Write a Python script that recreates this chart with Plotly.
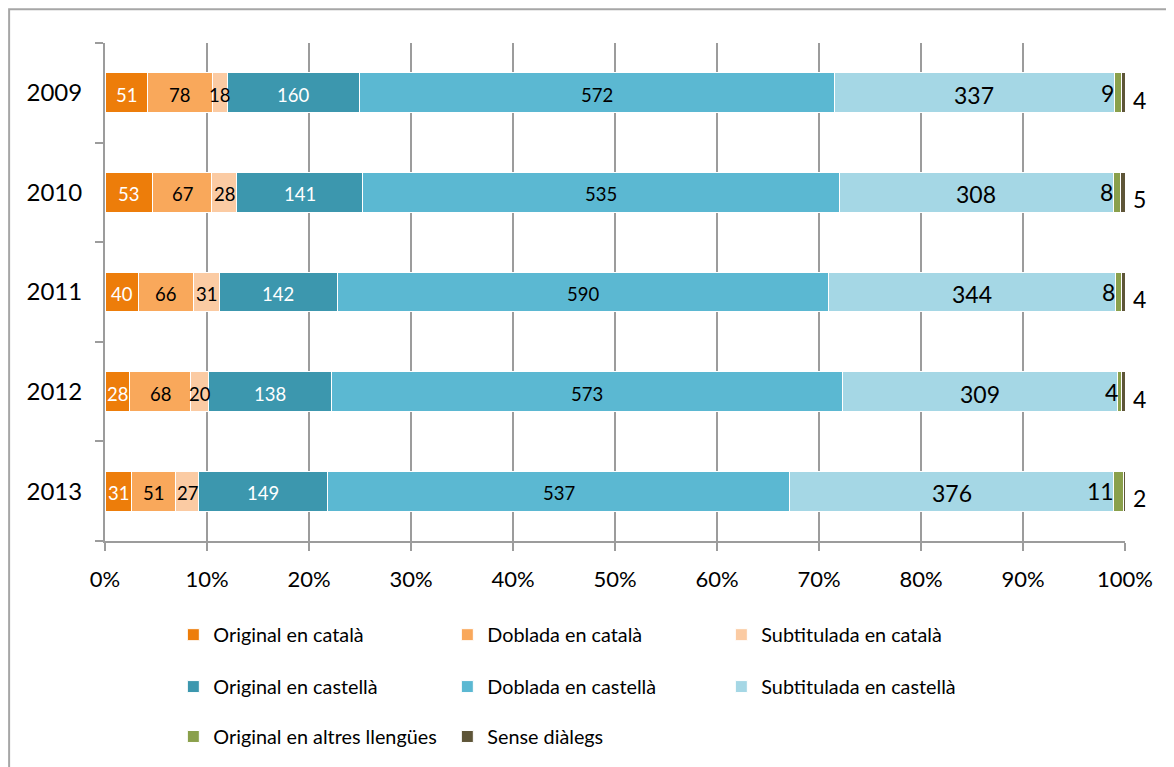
import plotly.graph_objects as go

# Dades: pel·lícules per versió lingüística i any
years = ["2009", "2010", "2011", "2012", "2013"]

series_names = [
    "Original en català",
    "Doblada en català",
    "Subtitulada en català",
    "Original en castellà",
    "Doblada en castellà",
    "Subtitulada en castellà",
    "Original en altres llengües",
    "Sense diàlegs",
]

original_cat = [51, 53, 40, 28, 31]
doblada_cat = [78, 67, 66, 68, 51]
subtitulada_cat = [18, 28, 31, 20, 27]
original_cast = [160, 141, 142, 138, 149]
doblada_cast = [572, 535, 590, 573, 537]
subtitulada_cast = [337, 308, 344, 309, 376]
original_altres = [9, 8, 8, 4, 11]
sense_dialegs = [4, 5, 4, 4, 2]

series_values = [
    original_cat, doblada_cat, subtitulada_cat,
    original_cast, doblada_cast, subtitulada_cast,
    original_altres, sense_dialegs,
]

colors = ["#ED7D0A", "#F9A85B", "#FBCBA3", "#3C97AE", "#5BB8D2",
          "#A5D7E5", "#8AA04B", "#5E5538"]
text_colors = ["white", "black", "black", "white", "black", "black", "black", "black"]
text_sizes = [18.5, 18.5, 18.5, 18.5, 18.5, 23, 23, 23]
legend_ids = ["legend", "legend", "legend", "legend2", "legend2", "legend2",
              "legend3", "legend3"]

FONT = "Lato, Carlito, Calibri, sans-serif"
GRID = "#9c9c9c"

# ordre de l'eix: 2009 a dalt
cat_order = list(reversed(years))

fig = go.Figure()

for i, name in enumerate(series_names):
    fig.add_trace(go.Bar(
        y=years,
        x=series_values[i],
        orientation="h",
        name=name,
        marker=dict(color=colors[i], line=dict(color="white", width=1)),
        legend=legend_ids[i],
        hoverinfo="name+x",
    ))

# percentatges acumulats per situar les etiquetes
totals = [sum(v[k] for v in series_values) for k in range(len(years))]
cum_start = []
run = [0] * len(years)
for v in series_values:
    cum_start.append([run[k] / totals[k] * 100 for k in range(len(years))])
    run = [run[k] + v[k] for k in range(len(years))]

annotations = []
for k, yr in enumerate(years):
    yi = cat_order.index(yr)
    # etiquetes dins dels segments
    for i in range(6):
        annotations.append(dict(
            x=cum_start[i][k] + series_values[i][k] / totals[k] * 50, y=yi,
            xref="x", yref="y", text=str(series_values[i][k]), showarrow=False,
            xanchor="center", yanchor="middle", yshift=-2,
            font=dict(size=text_sizes[i], color=text_colors[i], family=FONT),
        ))
    # segments petits: etiquetes desplaçades com a l'original
    annotations.append(dict(
        x=cum_start[6][k], y=yi, xref="x", yref="y",
        text=str(original_altres[k]), showarrow=False,
        xanchor="right", yanchor="middle", xshift=2, yshift=0,
        font=dict(size=23, color="black", family=FONT),
    ))
    annotations.append(dict(
        x=100, y=yi, xref="x", yref="y",
        text=str(sense_dialegs[k]), showarrow=False,
        xanchor="left", yanchor="middle", xshift=6, yshift=-7,
        font=dict(size=23, color="black", family=FONT),
    ))

legend_common = dict(
    orientation="h", xanchor="left", yanchor="middle",
    traceorder="normal",
    entrywidth=229, entrywidthmode="pixels",
    font=dict(size=19.8, color="black", family=FONT),
    bgcolor="rgba(0,0,0,0)", itemclick=False, itemdoubleclick=False,
)

fig.update_layout(
    barmode="stack",
    barnorm="percent",
    bargap=0.6,
    width=1166,
    height=759,
    margin=dict(l=97, r=49, t=35, b=225),
    paper_bgcolor="white",
    plot_bgcolor="white",
    font=dict(family=FONT, size=21, color="black"),
    showlegend=True,
    legend=dict(x=0.067, y=-0.186, **legend_common),
    legend2=dict(x=0.067, y=-0.29, **legend_common),
    legend3=dict(x=0.067, y=-0.39, **legend_common),
    annotations=annotations,
    shapes=[dict(
        type="rect", xref="paper", yref="paper",
        x0=-0.094, x1=1.2, y0=-0.6, y1=1.068,
        line=dict(color="#a6a6a6", width=2), fillcolor="rgba(0,0,0,0)",
        layer="below",
    )],
)

fig.update_xaxes(
    range=[0, 100],
    tickvals=[0, 10, 20, 30, 40, 50, 60, 70, 80, 90, 100],
    ticktext=["0%", "10%", "20%", "30%", "40%", "50%", "60%", "70%", "80%", "90%", "100%"],
    showgrid=True, gridcolor=GRID, gridwidth=2,
    showline=True, linecolor=GRID, linewidth=2,
    ticks="outside", ticklen=8, tickwidth=2, tickcolor=GRID,
    ticklabelstandoff=10,
    tickfont=dict(size=22, family=FONT, color="black"),
    zeroline=False,
)

fig.update_yaxes(
    type="category",
    categoryorder="array",
    categoryarray=cat_order,
    range=[-0.5, len(years) - 0.5],
    tickson="boundaries",
    showline=True, linecolor=GRID, linewidth=2,
    ticks="outside", ticklen=8, tickwidth=2, tickcolor=GRID,
    ticklabelstandoff=16,
    showgrid=False,
    tickfont=dict(size=24, family=FONT, color="black"),
)

fig.write_html("out.html")
